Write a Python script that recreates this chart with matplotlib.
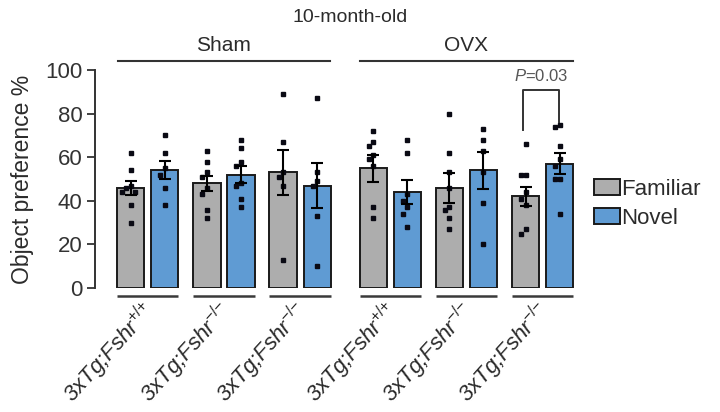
import numpy as np
import matplotlib
matplotlib.use("Agg")
import matplotlib.pyplot as plt
from matplotlib.patches import Patch

plt.rcParams['font.family'] = ['Liberation Sans', 'DejaVu Sans']
plt.rcParams['mathtext.fontset'] = 'custom'
plt.rcParams['mathtext.it'] = 'Liberation Sans:italic'
plt.rcParams['mathtext.rm'] = 'Liberation Sans'

# Data
groups = ['Sham', 'OVX']
genotypes = [r'3xTg;Fshr$^{\mathit{{+}/{+}}}$',
             r'3xTg;Fshr$^{\mathit{{-}/{-}}}$',
             r'3xTg;Fshr$^{\mathit{{-}/{-}}}$']
conditions = ['Familiar', 'Novel']

familiar_mean = [46, 48, 53, 55, 46, 42]
novel_mean = [54, 52, 47, 44, 54, 57]
familiar_sem = [3.3, 3.5, 10.5, 6.2, 6.8, 4.5]
novel_sem = [4.2, 4.0, 10.3, 5.5, 8.5, 4.8]

familiar_dots = [
    [62, 54, 47, 46, 44, 44, 38, 30],
    [63, 58, 53, 51, 46, 43, 36, 32],
    [89, 67, 53, 51, 47, 13],
    [72, 67, 65, 61, 59, 56, 37, 32],
    [80, 62, 53, 46, 37, 36, 32, 27],
    [66, 52, 52, 44, 41, 38, 27, 25],
]
novel_dots = [
    [70, 62, 55, 52, 46, 38],
    [68, 64, 58, 56, 48, 47, 41, 37],
    [87, 53, 49, 47, 33, 10],
    [68, 62, 43, 40, 37, 34, 28],
    [73, 68, 63, 53, 39, 20],
    [75, 74, 65, 59, 56, 50, 50, 34],
]
p_label = '$P$=0.03'

gray = '#adadad'
blue = '#5f9bd3'
ink = '#2b2b2b'


def spread(values, width=0.13, tol=3.0):
    # small sideways offsets so that dots with close values sit side by side
    placed = []
    offs = []
    for v in values:
        for o in (0.0, -width, width, -2 * width, 2 * width):
            if all(abs(v - pv) > tol or po != o for pv, po in placed):
                break
        placed.append((v, o))
        offs.append(o)
    return np.array(offs)


fig = plt.figure(figsize=(7.2, 4.12), dpi=100)
ax = fig.add_axes([95 / 720, 124 / 412, 483 / 720, 218 / 412])

pair_step = 2.24
group_gap = 2.65
centers = []
for g in range(len(groups)):
    start = 1.55 + g * (2 * pair_step + group_gap)
    centers += [start + i * pair_step for i in range(len(genotypes))]
centers = np.array(centers)
half = 0.5
bw = 0.8

for k, c in enumerate(centers):
    for x, m, s, dots, col in [(c - half, familiar_mean[k], familiar_sem[k], familiar_dots[k], gray),
                               (c + half, novel_mean[k], novel_sem[k], novel_dots[k], blue)]:
        ax.bar(x, m, width=bw, color=col, edgecolor='#1a1a1a', linewidth=1.4, zorder=2)
        ax.errorbar(x, m, yerr=s, fmt='none', ecolor='black', elinewidth=1.5,
                    capsize=4.5, capthick=1.5, zorder=4)
        ax.plot(x + spread(dots), dots, 's', color='#0a0a14', markersize=3.4,
                linestyle='none', zorder=3)
    # underline under each pair
    ax.plot([c - half - bw / 2, c + half + bw / 2], [-3.6, -3.6], color='#3a3a3a',
            lw=1.8, clip_on=False, solid_capstyle='butt')
    ax.text(c + 0.1, -8.5, genotypes[k % 3], rotation=48, rotation_mode='anchor',
            ha='right', va='center', fontsize=16, style='italic', color=ink)

# group lines and titles
for g, name in enumerate(groups):
    gc = centers[3 * g + 1]
    ax.plot([gc - 3.12, gc + 3.12], [104.3, 104.3], color='#333333', lw=1.5, clip_on=False)
    ax.text(gc, 107, name, ha='center', va='bottom', fontsize=15, color=ink)

ax.text((centers[2] + centers[3]) / 2 + 0.15, 120, '10-month-old', ha='center',
        va='bottom', fontsize=14, color=ink)

# significance bracket
xl, xr = centers[-1] - half - 0.08, centers[-1] + half - 0.02
ax.plot([xl, xl, xr, xr], [72.5, 90.8, 90.8, 76], color='#333333', lw=1.4, clip_on=False)
ax.text((xl + xr) / 2, 93.5, p_label, ha='center', va='bottom', fontsize=12, color='#555555')

ax.set_xlim(0, 14.2)
ax.set_ylim(0, 100)
ax.set_yticks([0, 20, 40, 60, 80, 100])
ax.tick_params(axis='y', labelsize=16, length=6, width=1.3, colors='#333333', pad=3)
ax.set_xticks([])
for side in ['top', 'right', 'bottom']:
    ax.spines[side].set_visible(False)
ax.spines['left'].set_linewidth(1.4)
ax.spines['left'].set_color('#333333')
ax.set_ylabel('Object preference %', fontsize=16.5, color=ink, labelpad=8)

handles = [Patch(facecolor=gray, edgecolor='#1a1a1a', linewidth=1.4),
           Patch(facecolor=blue, edgecolor='#1a1a1a', linewidth=1.4)]
fig.legend(handles, conditions, loc='center left', bbox_to_anchor=(594 / 720, 0.505),
           frameon=False, fontsize=16, handlelength=1.15, handleheight=0.75,
           handletextpad=0.05, labelspacing=0.35, borderpad=0, borderaxespad=0,
           labelcolor=ink)

fig.savefig('out.png', dpi=100)
